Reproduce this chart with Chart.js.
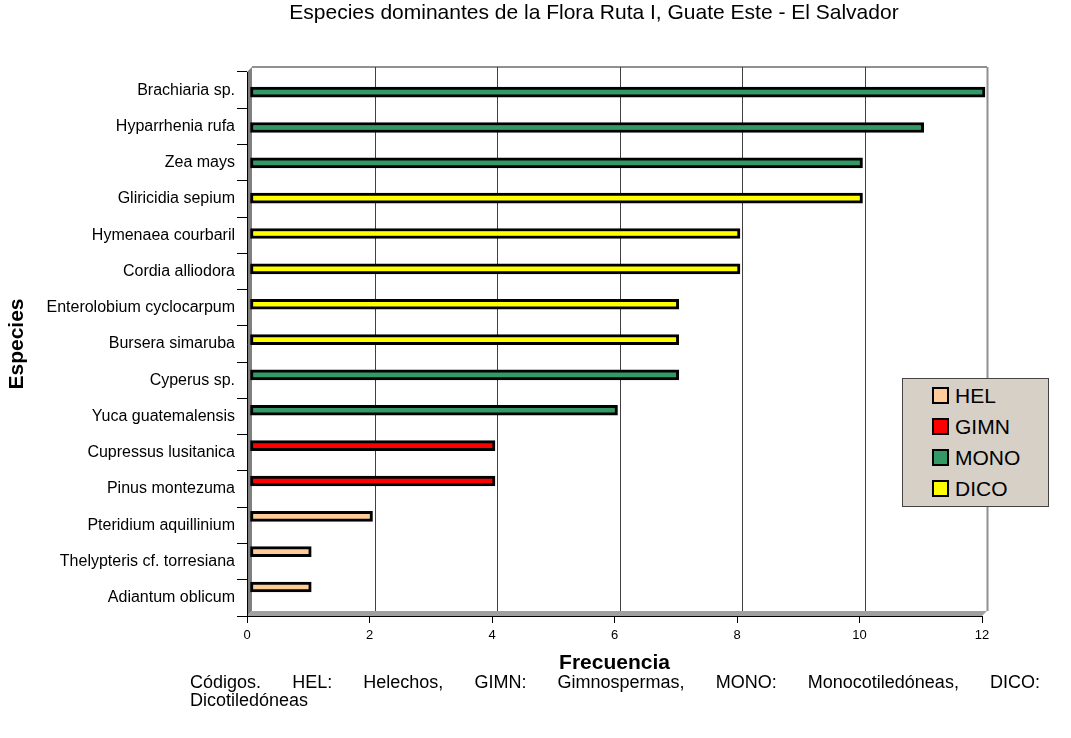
<!DOCTYPE html>
<html>
<head>
<meta charset="utf-8">
<script src="https://cdn.jsdelivr.net/npm/chart.js@4.4.1/dist/chart.umd.min.js"></script>
<style>
  body { margin: 0; background: #fff; font-family: "Liberation Sans", Arial, sans-serif; }
  #wrap { position: relative; width: 1071px; height: 738px; }
  #title { position: absolute; left: 0; width: 1188px; top: 0px; text-align: center; font-size: 21px; color: #000; }
  #legend { position: absolute; left: 902px; top: 378px; width: 147px; height: 129px; background: #d6d0c6; border: 1px solid #444; box-sizing: border-box; padding: 1px 0 0 29px; }
  #legend div { display: flex; align-items: center; height: 31px; font-size: 21px; }
  #legend span.box { width: 13px; height: 13px; border: 2px solid #000; margin-right: 6px; }
  #note { position: absolute; left: 190px; top: 673px; width: 850px; font-size: 18px; line-height: 18px; }
  #note .l1 { text-align: justify; text-align-last: justify; }
</style>
</head>
<body>
<div id="wrap">
  <canvas id="chart" width="1071" height="738"></canvas>
  <div id="title">Especies dominantes de la Flora Ruta I, Guate Este - El Salvador</div>
  <div id="legend"></div>
  <div id="note">
    <div class="l1">Códigos. HEL: Helechos, GIMN: Gimnospermas, MONO: Monocotiledóneas, DICO:</div>
    <div>Dicotiledóneas</div>
  </div>
</div>
<script>
// ===== Datos =====
const species = [
  "Brachiaria sp.", "Hyparrhenia rufa", "Zea mays", "Gliricidia sepium",
  "Hymenaea courbaril", "Cordia alliodora", "Enterolobium cyclocarpum",
  "Bursera simaruba", "Cyperus sp.", "Yuca guatemalensis",
  "Cupressus lusitanica", "Pinus montezuma", "Pteridium aquillinium",
  "Thelypteris cf. torresiana", "Adiantum oblicum"
];
const frequency = [12, 11, 10, 10, 8, 8, 7, 7, 7, 6, 4, 4, 2, 1, 1];
const group = ["MONO", "MONO", "MONO", "DICO", "DICO", "DICO", "DICO",
  "DICO", "MONO", "MONO", "GIMN", "GIMN", "HEL", "HEL", "HEL"];
const groups = ["HEL", "GIMN", "MONO", "DICO"];
const groupColors = ["#ffcc99", "#ff0000", "#339966", "#ffff00"];
const xTicks = [0, 2, 4, 6, 8, 10, 12];

const depth = 5;

// una serie por grupo, cada barra en su posición de especie
const datasets = groups.map((g, gi) => ({
  label: g,
  data: species.map((s, i) => ({ x: frequency[i], y: i })).filter((p, i) => group[i] === g),
  backgroundColor: groupColors[gi],
  borderColor: "#000",
  borderWidth: 3,
  borderSkipped: false,
  barThickness: 10,
  grouped: false,
  clip: false,
  xAxisID: "x",
  yAxisID: "yBars"
}));

// ===== Paredes 3D =====
const walls = {
  id: "walls",
  beforeDraw(chart) {
    const { ctx, chartArea: a, scales } = chart;
    const x = scales.x;
    ctx.save();
    // pared izquierda
    ctx.fillStyle = "#808080";
    ctx.beginPath();
    ctx.moveTo(a.left, a.top);
    ctx.lineTo(a.left + depth, a.top - depth);
    ctx.lineTo(a.left + depth, a.bottom - depth);
    ctx.lineTo(a.left, a.bottom);
    ctx.fill();
    // piso
    ctx.fillStyle = "#a0a0a0";
    ctx.beginPath();
    ctx.moveTo(a.left, a.bottom);
    ctx.lineTo(a.left + depth, a.bottom - depth);
    ctx.lineTo(a.right + depth, a.bottom - depth);
    ctx.lineTo(a.right, a.bottom);
    ctx.fill();
    // borde superior del fondo
    ctx.strokeStyle = "#909090";
    ctx.lineWidth = 2;
    ctx.beginPath();
    ctx.moveTo(a.left + depth, a.top - depth);
    ctx.lineTo(a.right + depth, a.top - depth);
    ctx.stroke();
    // líneas de división en el fondo
    xTicks.forEach(v => {
      if (v === 0) return;
      const px = Math.round(x.getPixelForValue(v)) + depth + 0.5;
      ctx.strokeStyle = v === 12 ? "#909090" : "#404040";
      ctx.lineWidth = v === 12 ? 2 : 1;
      ctx.beginPath();
      ctx.moveTo(px, a.top - depth);
      ctx.lineTo(px, a.bottom - depth);
      ctx.stroke();
    });
    ctx.restore();
  },
  beforeDatasetsDraw(chart) {
    chart.ctx.save();
    chart.ctx.translate(3, 0);
  },
  afterDatasetsDraw(chart) {
    chart.ctx.restore();
  }
};

new Chart(document.getElementById("chart"), {
  type: "bar",
  data: { labels: species, datasets },
  plugins: [walls],
  options: {
    responsive: false,
    animation: false,
    indexAxis: "y",
    layout: { padding: { top: 72, right: 89, left: 0, bottom: 0 } },
    plugins: { legend: { display: false }, tooltip: { enabled: false } },
    scales: {
      x: {
        type: "linear",
        min: 0, max: 12,
        afterFit(s) { s.height = 122; },
        afterBuildTicks(s) { s.ticks = xTicks.map(v => ({ value: v })); },
        ticks: { color: "#000", font: { family: "Liberation Sans", size: 13 }, padding: 5 },
        grid: { drawOnChartArea: false, color: "#000", tickLength: 7 },
        border: { color: "#000", width: 1 },
        title: {
          display: true, text: "Frecuencia", color: "#000",
          font: { family: "Liberation Sans", size: 21, weight: "bold" },
          padding: { top: 0, bottom: 62 }
        }
      },
      y: {
        type: "category",
        offset: true,
        afterFit(s) { s.width = 247; },
        ticks: { color: "#000", font: { family: "Liberation Sans", size: 16 }, padding: 2 },
        grid: { drawOnChartArea: false, offset: true, color: "#000", tickLength: 10 },
        border: { color: "#000", width: 1 },
        title: {
          display: true, text: "Especies", color: "#000",
          font: { family: "Liberation Sans", size: 21, weight: "bold" },
          padding: { top: 5, bottom: 5 }
        }
      },
      yBars: {
        type: "linear",
        display: false,
        offset: false,
        bounds: "data",
        reverse: true,
        min: -0.57, max: 14.82
      }
    }
  }
});

// ===== Leyenda =====
const legend = document.getElementById("legend");
groups.forEach((g, gi) => {
  const row = document.createElement("div");
  row.innerHTML = `<span class="box" style="background:${groupColors[gi]}"></span>${g}`;
  legend.appendChild(row);
});
</script>
</body>
</html>
